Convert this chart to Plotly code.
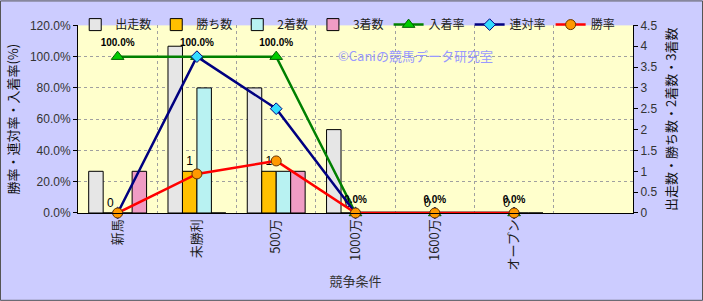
import plotly.graph_objects as go

categories = ["新馬", "未勝利", "500万", "1000万", "1600万", "オープン"]
axis_slots = categories + [" "]

starts = [1, 4, 3, 2, 0, 0]
wins = [0, 1, 1, 0, 0, 0]
seconds = [0, 3, 1, 0, 0, 0]
thirds = [1, 0, 1, 0, 0, 0]

place_rate = [1.0, 1.0, 1.0, 0.0, 0.0, 0.0]
rentai_rate = [0.0, 1.0, 0.667, 0.0, 0.0, 0.0]
win_rate = [0.0, 0.25, 0.333, 0.0, 0.0, 0.0]

FONT = "Liberation Sans, Noto Sans CJK JP, sans-serif"
JFONT = "Noto Sans CJK JP, sans-serif"

fig = go.Figure()

bar_specs = [
    ("出走数", starts, "#e6e6e6"),
    ("勝ち数", wins, "#ffc000"),
    ("2着数", seconds, "#b8f2f2"),
    ("3着数", thirds, "#f09cc4"),
]
for name, vals, col in bar_specs:
    kw = {}
    if name == "勝ち数":
        kw = dict(text=[str(v) for v in vals], textposition="outside",
                  textfont=dict(size=12, color="#000000", family=FONT),
                  cliponaxis=False)
    fig.add_trace(go.Bar(
        name=name, x=categories, y=vals, yaxis="y",
        marker=dict(color=col, line=dict(color="#000000", width=1)),
        **kw))

fig.add_trace(go.Scatter(
    name="入着率", x=categories, y=place_rate, yaxis="y2",
    mode="lines+markers+text",
    line=dict(color="#008000", width=2.5),
    marker=dict(symbol="triangle-up", size=11, color="#00cc00",
                line=dict(color="#006000", width=1)),
    texttemplate="<b>%{y:.1%}</b>", textposition="top center",
    textfont=dict(size=10, color="#000000", family=FONT),
    cliponaxis=False))
fig.add_trace(go.Scatter(
    name="連対率", x=categories, y=rentai_rate, yaxis="y2",
    mode="lines+markers",
    line=dict(color="#000080", width=2.5),
    marker=dict(symbol="diamond", size=9, color="#33ddff",
                line=dict(color="#000080", width=1)),
    cliponaxis=False))
fig.add_trace(go.Scatter(
    name="勝率", x=categories, y=win_rate, yaxis="y2",
    mode="lines+markers",
    line=dict(color="#ff0000", width=2.5),
    marker=dict(symbol="circle", size=10, color="#ff9900",
                line=dict(color="#663300", width=1)),
    cliponaxis=False))

W, H = 703, 301
L, R, TM, B = 78, 70, 6, 88
PLOT_TOP = 25
PAPER_TOP = 12.6  # effective top of the paper area after the legend pushes the margin
pw = W - L - R
paper_h = H - B - PAPER_TOP
dom_top = (H - B - PLOT_TOP) / paper_h

def px_x(x):
    return (x - L) / pw

def px_y(y):
    return (H - B - y) / paper_h

fig.update_layout(
    width=W, height=H,
    margin=dict(l=L, r=R, t=TM, b=B),
    paper_bgcolor="#ccccff",
    plot_bgcolor="#ffffcc",
    font=dict(family=JFONT, size=12, color="#222222"),
    barmode="group", bargap=0.27, bargroupgap=0,
    showlegend=True,
    legend=dict(orientation="h", x=-0.005, xanchor="left", y=1.0145, yanchor="top",
                bgcolor="rgba(0,0,0,0)", font=dict(size=12, family=JFONT, color="#222222"),
                itemwidth=30, traceorder="normal", tracegroupgap=0),
    xaxis=dict(
        type="category", categoryorder="array", categoryarray=axis_slots,
        range=[-0.5, 6.5], tickson="boundaries", ticks="",
        showgrid=True, gridcolor="#a0a0a0", griddash="dot", gridwidth=1,
        showline=True, linecolor="#000000", linewidth=1,
        tickangle=-90, tickfont=dict(size=13, family=JFONT, color="#222222"),
        title=dict(text="競争条件", font=dict(size=13, family=JFONT, color="#333333"), standoff=7),
        automargin=True,
    ),
    yaxis=dict(
        domain=[0, dom_top],
        side="right", range=[0, 4.5], dtick=0.5, showgrid=False, zeroline=False,
        showline=True, linecolor="#000000", linewidth=1,
        ticks="outside", ticklen=4, tickcolor="#000000",
        tickfont=dict(size=12, family=FONT, color="#333333"),
        title=dict(text="出走数・勝ち数・2着数・3着数",
                   font=dict(size=13, family=JFONT, color="#111111"), standoff=10),
        automargin=True,
    ),
    yaxis2=dict(
        overlaying="y", side="left", range=[0, 1.2], dtick=0.2, tickformat=".1%",
        showgrid=True, gridcolor="#a0a0a0", griddash="dot", gridwidth=1, zeroline=False,
        showline=True, linecolor="#000000", linewidth=1,
        ticks="outside", ticklen=4, tickcolor="#000000",
        tickfont=dict(size=12, family=FONT, color="#333333"),
        title=dict(text="勝率・連対率・入着率(%)",
                   font=dict(size=13, family=JFONT, color="#111111"), standoff=8),
        automargin=True,
    ),
    annotations=[dict(
        text="©Caniの競馬データ研究室", xref="paper", yref="paper",
        x=px_x(495), y=px_y(44), showarrow=False,
        font=dict(size=13, family=JFONT, color="#9999ff"))],
    shapes=[dict(
        type="rect", xref="paper", yref="paper",
        x0=px_x(0.5), x1=px_x(W - 0.5), y0=px_y(H - 0.5), y1=px_y(0.5),
        line=dict(color="#555555", width=1), fillcolor="rgba(0,0,0,0)", layer="above")],
)

fig.write_html("out.html")
